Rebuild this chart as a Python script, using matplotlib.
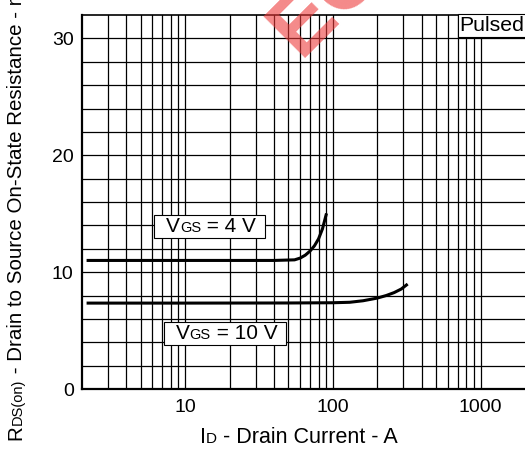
import numpy as np
import matplotlib
matplotlib.use('Agg')
import matplotlib.pyplot as plt
from matplotlib.offsetbox import TextArea, HPacker, AnnotationBbox, DrawingArea

plt.rcParams['font.family'] = ['Liberation Sans', 'DejaVu Sans']

# data
id_4v = [2.2, 10, 40, 55, 60, 65, 70, 75, 80, 85, 90]
r_4v = [11.0, 11.0, 11.0, 11.05, 11.2, 11.45, 11.8, 12.25, 12.85, 13.7, 14.9]
id_10v = [2.2, 10, 50, 100, 130, 160, 200, 230, 260, 290, 315]
r_10v = [7.35, 7.35, 7.36, 7.38, 7.42, 7.55, 7.78, 8.0, 8.25, 8.55, 8.9]

x_ticks = [10, 100, 1000]
y_ticks = [0, 10, 20, 30]

W, H = 525, 458
fig = plt.figure(figsize=(W / 100, H / 100), dpi=100)
ax = fig.add_axes([82 / W, 1 - 389 / H, 1 - 82 / W, (389 - 15) / H])

ax.set_xscale('log')
ax.set_xlim(2, 2000)
ax.set_ylim(0, 32)

# grid: every 1-9 per decade, every 2 on y
for dec in [1, 10, 100, 1000]:
    for m in range(1, 10):
        v = dec * m
        if 2 < v < 2000:
            ax.axvline(v, color='black', lw=0.9, zorder=1)
for v in range(2, 32, 2):
    ax.axhline(v, color='black', lw=0.9, zorder=1)

ax.plot(id_4v, r_4v, color='black', lw=2.2, zorder=3)
ax.plot(id_10v, r_10v, color='black', lw=2.2, zorder=3)

ax.set_xticks(x_ticks)
ax.set_xticklabels([str(t) for t in x_ticks])
ax.set_yticks(y_ticks)
ax.xaxis.set_minor_locator(matplotlib.ticker.NullLocator())
ax.tick_params(axis='both', length=0, labelsize=14)
ax.tick_params(axis='x', pad=7)
ax.tick_params(axis='y', pad=6)

ax.spines['right'].set_visible(False)
ax.spines['left'].set_linewidth(1.6)
ax.spines['bottom'].set_linewidth(1.6)
ax.spines['top'].set_linewidth(1.2)


def vgs_box(xy, value):
    parts = [DrawingArea(7, 1),
             TextArea('V', textprops=dict(size=15)),
             TextArea('GS', textprops=dict(size=10.5)),
             TextArea(' = ' + value, textprops=dict(size=15)),
             DrawingArea(5, 1)]
    pack = HPacker(children=parts, align='baseline', pad=0, sep=0)
    ab = AnnotationBbox(pack, xy, xycoords='data', frameon=True, pad=0.15,
                        bboxprops=dict(fc='white', ec='black', lw=0.8), zorder=4)
    ax.add_artist(ab)


vgs_box((14.6, 13.9), '4 V')
vgs_box((18.6, 4.74), '10 V')

ax.text(0.999, 0.997, 'Pulsed', transform=ax.transAxes, ha='right', va='top',
        fontsize=15.3, zorder=5,
        bbox=dict(fc='white', ec='black', lw=0.8, boxstyle='square,pad=0.08'))

# watermark (mostly outside the picture)
fig.text(300 / W, 1 - 58 / H, 'ECO', fontsize=62, fontweight='bold', color='#ee3b3b',
         alpha=0.6, rotation=45, rotation_mode='anchor', ha='left', va='baseline',
         zorder=10)

fig.canvas.draw()
renderer = fig.canvas.get_renderer()


def place_pieces(pieces, x0, y0, rotation=0):
    off = 0
    for s, size in pieces:
        if rotation == 0:
            px, py = x0 + off, y0
        else:
            px, py = x0, y0 + off
        t = fig.text(px / W, py / H, s, fontsize=size, rotation=rotation,
                     rotation_mode='anchor', ha='left', va='baseline')
        bb = t.get_window_extent(renderer)
        off += bb.width if rotation == 0 else bb.height


place_pieces([('I', 15.5), ('D', 11), (' - Drain Current - A', 15.5)], 200, H - 443)
place_pieces([('R', 14.75), ('DS(on)', 10.5),
              (' - Drain to Source On-State Resistance - m\u03a9', 14.75)],
             21.7, H - 440, rotation=90)

fig.savefig('out.png', dpi=100)
